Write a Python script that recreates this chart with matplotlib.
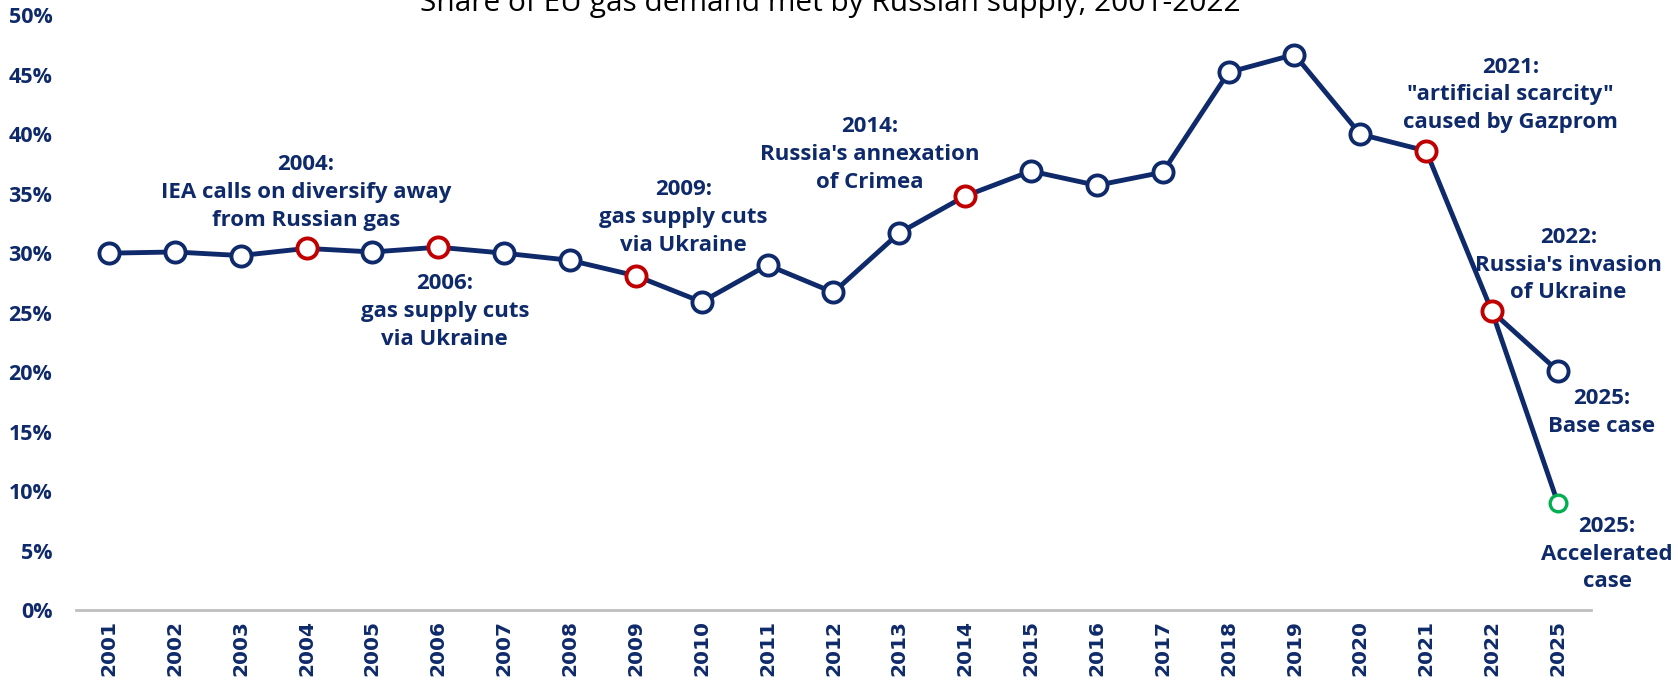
import matplotlib
matplotlib.use("Agg")
import matplotlib.pyplot as plt
from matplotlib.ticker import PercentFormatter

# data
years = ["2001", "2002", "2003", "2004", "2005", "2006", "2007", "2008", "2009", "2010",
         "2011", "2012", "2013", "2014", "2015", "2016", "2017", "2018", "2019", "2020",
         "2021", "2022", "2025"]
share = [30.0, 30.1, 29.8, 30.4, 30.1, 30.5, 30.0, 29.4, 28.1, 25.9,
         29.0, 26.7, 31.7, 34.8, 36.9, 35.7, 36.8, 45.2, 46.7, 40.0,
         38.6, 25.1]
base_2025 = 20.1
accel_2025 = 9.0
event_years = ["2004", "2006", "2009", "2014", "2021", "2022"]

notes = [
    ("2004:\nIEA calls on diversify away\nfrom Russian gas", 2.99, 35.1),
    ("2006:\ngas supply cuts\nvia Ukraine", 5.10, 25.1),
    ("2009:\ngas supply cuts\nvia Ukraine", 8.72, 33.0),
    ("2014:\nRussia's annexation\nof Crimea", 11.55, 38.3),
    ("2021:\n\"artificial scarcity\"\ncaused by Gazprom", 21.28, 43.3),
    ("2022:\nRussia's invasion\nof Ukraine", 22.16, 29.0),
    ("2025:\nBase case", 22.66, 16.6),
    ("2025:\nAccelerated\ncase", 22.75, 4.7),
]

navy = "#0F2A6A"
red = "#C00000"
green = "#00B050"

fig = plt.figure(figsize=(16.78, 6.82), dpi=100)
ax = fig.add_axes([0.0453, 0.1056, 0.9027, 0.872])

x = list(range(len(years)))
i22 = years.index("2022")
i25 = years.index("2025")

# lines first, markers on top
ax.plot(x[:i22 + 1], share, color=navy, lw=3.5, zorder=2, solid_capstyle="round")
ax.plot([i22, i25], [share[i22], base_2025], color=navy, lw=3.5, zorder=2)
ax.plot([i22, i25], [share[i22], accel_2025], color=navy, lw=3.5, zorder=2)

for i, v in enumerate(share):
    edge = red if years[i] in event_years else navy
    ax.plot(i, v, "o", ms=14.5, mfc="white", mec=edge, mew=2.8, zorder=3)
ax.plot(i25, base_2025, "o", ms=14.5, mfc="white", mec=navy, mew=2.8, zorder=3)
ax.plot(i25, accel_2025, "o", ms=12, mfc="white", mec=green, mew=2.4, zorder=3)

for txt, tx, ty in notes:
    ax.text(tx, ty, txt, ha="center", va="center", color=navy, fontsize=16,
            fontweight="bold", family="Open Sans", linespacing=1.42, zorder=4)

ax.set_xlim(-0.5, len(years) - 0.5)
ax.set_ylim(0, 50)
ax.set_yticks(range(0, 51, 5))
ax.yaxis.set_major_formatter(PercentFormatter(decimals=0))
ax.set_xticks(x)
ax.set_xticklabels(years, rotation=90, fontsize=14.5, fontweight="bold",
                   family="DejaVu Sans", color=navy)
for lab in ax.get_yticklabels():
    lab.set_fontsize(15.5)
    lab.set_fontweight("bold")
    lab.set_family("Open Sans")
    lab.set_color(navy)
ax.tick_params(axis="both", length=0)
ax.tick_params(axis="y", pad=17)
ax.tick_params(axis="x", pad=7)

for s in ["top", "right", "left"]:
    ax.spines[s].set_visible(False)
ax.spines["bottom"].set_color("#BFBFBF")
ax.spines["bottom"].set_linewidth(2)

fig.text(0.495, 0.984, "Share of EU gas demand met by Russian supply, 2001-2022",
         ha="center", va="baseline", fontsize=21.5, family="Open Sans", color="black")

fig.savefig("out.png", dpi=100)
